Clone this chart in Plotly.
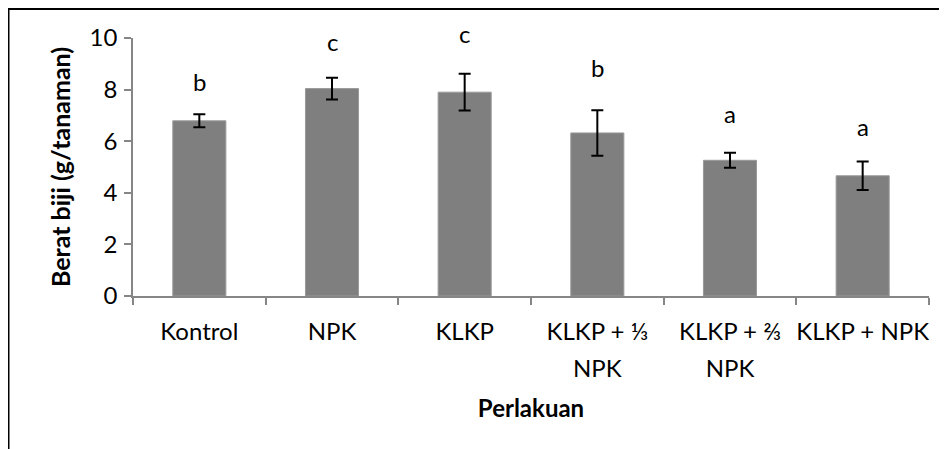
import plotly.graph_objects as go

categories = ["Kontrol", "NPK", "KLKP", "KLKP + ⅓<br>NPK", "KLKP + ⅔<br>NPK", "KLKP + NPK"]
values = [6.79, 8.04, 7.90, 6.32, 5.26, 4.66]
errors = [0.25, 0.42, 0.71, 0.88, 0.29, 0.55]
letters = ["b", "c", "c", "b", "a", "a"]
letter_y = [8.33, 9.86, 10.17, 8.87, 7.09, 6.56]
y_ticks = [0, 2, 4, 6, 8, 10]
Y_MAX = 10

FONT = "Lato"
FS = 24
OFF = 8  # page body margin
W, H = 947 - OFF, 449 - OFF
L, R, T, B = 133 - OFF, 18, 38 - OFF, 153

tick_text = ["<br>".join(f'<span style="font-size:{FS}px">{part}</span>' for part in c.split("<br>"))
             for c in categories]

fig = go.Figure()
fig.add_trace(go.Bar(
    x=categories, y=values,
    marker=dict(color="#7f7f7f", line=dict(color="#9a9a9a", width=1)),
    width=0.4,
    error_y=dict(type="data", array=errors, visible=True, color="black", thickness=2, width=6),
    showlegend=False,
))

for c, t, yy in zip(categories, letters, letter_y):
    fig.add_annotation(x=c, y=yy / Y_MAX, text=t, showarrow=False, xref="x", yref="paper",
                       xanchor="center", yanchor="middle",
                       font=dict(family=FONT, size=FS, color="black"))

pw, ph = W - L - R, H - T - B
def px(xp):
    return (xp - OFF - L) / pw
def py(yp):
    return (H - B - (yp - OFF)) / ph

fig.add_shape(type="line", xref="paper", yref="paper", x0=px(8.5), x1=px(8.5), y0=py(9), y1=py(449),
              line=dict(color="black", width=2))
fig.add_shape(type="line", xref="paper", yref="paper", x0=px(8), x1=px(947), y0=py(9), y1=py(9),
              line=dict(color="black", width=2))

axis_gray = "#868686"
fig.update_layout(
    template="none",
    width=W, height=H,
    margin=dict(l=L, r=R, t=T, b=B, pad=0, autoexpand=False),
    plot_bgcolor="white", paper_bgcolor="white",
    font=dict(family=FONT, size=FS, color="black"),
    xaxis=dict(
        automargin=False, tickangle=0,
        tickmode="array", tickvals=categories, ticktext=tick_text,
        showline=True, linecolor=axis_gray, linewidth=1.5,
        ticks="outside", tickson="boundaries", ticklen=7, tickcolor=axis_gray, tickwidth=1.5,
        tickfont=dict(family=FONT, size=28), ticklabelstandoff=9,
        title=dict(text="<b>Perlakuan</b>", font=dict(family=FONT, size=FS), standoff=19),
        showgrid=False,
    ),
    yaxis=dict(
        automargin=False,
        range=[0, Y_MAX], tickvals=y_ticks,
        showline=True, linecolor=axis_gray, linewidth=1.5,
        ticks="outside", ticklen=7, tickcolor=axis_gray, tickwidth=1.5,
        tickfont=dict(family=FONT, size=FS), ticklabelstandoff=2,
        title=dict(text="<b>Berat biji (g/tanaman)</b>", font=dict(family=FONT, size=25), standoff=12),
        showgrid=False, zeroline=False,
    ),
)

fig.write_html("out.html")
